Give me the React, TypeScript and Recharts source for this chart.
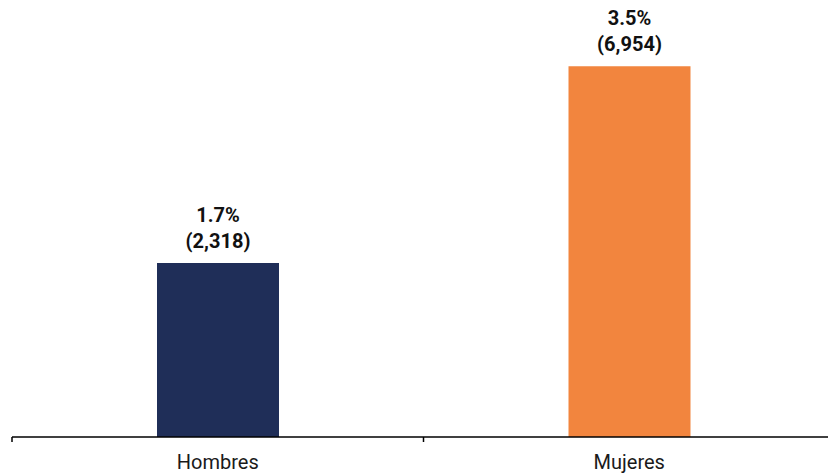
import { BarChart, Bar, XAxis, YAxis, Cell, LabelList } from 'recharts';

const categories = ['Hombres', 'Mujeres'];
const values = [1.66, 3.54];
const pctLabels = ['1.7%', '3.5%'];
const countLabels = ['(2,318)', '(6,954)'];
const COLORS = ['#1F2E58', '#F2853E'];

const chartData = categories.map((name, i) => ({
  name,
  value: values[i],
  pct: pctLabels[i],
  count: countLabels[i],
}));

const CHART_W = 843;
const MARGIN = { top: 18, right: 8, left: 12, bottom: 0 };
const BAND = (CHART_W - MARGIN.left - MARGIN.right) / categories.length;

// ticks sit on the band edges, not under the bars
function CategoryTick(props: any) {
  const { x, y, payload } = props;
  return (
    <g>
      <line x1={x - BAND / 2} x2={x - BAND / 2} y1={y - 8} y2={y - 3} stroke="#000" strokeWidth={1.5} />
      <text x={x} y={y + 24} textAnchor="middle" fontSize={20} fill="#1a1a1a" fontFamily="Roboto">
        {payload.value}
      </text>
    </g>
  );
}

function TwoLineLabel(props: any) {
  const { x, y, width, index } = props;
  const cx = x + width / 2;
  return (
    <g fontFamily="Roboto" fontWeight={700} fontSize={20} fill="#111">
      <text x={cx} y={y - 41} textAnchor="middle">{chartData[index].pct}</text>
      <text x={cx} y={y - 15} textAnchor="middle">{chartData[index].count}</text>
    </g>
  );
}

export default function App() {
  return (
    <div style={{ position: 'absolute', left: 0, top: 0, width: 828, height: 474, overflow: 'hidden', background: '#fff' }}>
      <BarChart width={CHART_W} height={474} data={chartData} margin={MARGIN}>
        <XAxis
          dataKey="name"
          axisLine={{ stroke: '#000', strokeWidth: 1.5 }}
          tickLine={false}
          tick={<CategoryTick />}
          height={37}
          interval={0}
        />
        <YAxis hide domain={[0, 4]} />
        <Bar dataKey="value" barSize={122} isAnimationActive={false}>
          {chartData.map((_, i) => (
            <Cell key={`cell-${i}`} fill={COLORS[i]} />
          ))}
          <LabelList dataKey="value" content={<TwoLineLabel />} />
        </Bar>
      </BarChart>
    </div>
  );
}
